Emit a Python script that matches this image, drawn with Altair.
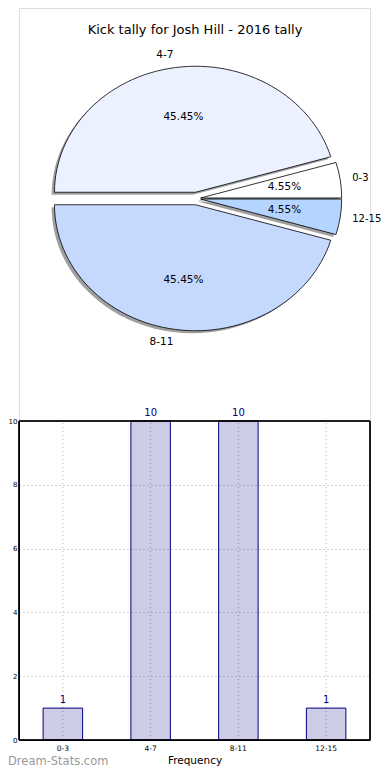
import altair as alt
import pandas as pd

# ---------------- data ----------------
title_text = "Kick tally for Josh Hill - 2016 tally"
categories = ["0-3", "4-7", "8-11", "12-15"]
counts = [1, 10, 10, 1]
pie_colors = ["#ffffff", "#ebf1ff", "#c5d9ff", "#b4d5ff"]
explode = [0.03, 0.05, 0.05, 0.03]
y_ticks = [0, 2, 4, 6, 8, 10]
x_title = "Frequency"
watermark = "Dream-Stats.com"

# ---------------- layout (plot-area pixels) ----------------
W, H = 351, 732
BAR_TOP = 413
CX, CY, RX, RY = 177.5, 190.5, 141, 126
FONT = "DejaVu Sans"
NAVY = "#000080"

df = pd.DataFrame({
    "cat": categories,
    "count": counts,
    "color": pie_colors,
    "explode": explode,
    "order": list(range(len(categories))),
})

# ---------------- pie (matplotlib-style, elliptical) ----------------
pie = (
    alt.Chart(df)
    .transform_joinaggregate(total="sum(count)")
    .transform_window(cum="sum(count)", sort=[alt.SortField("order")], frame=[None, 0])
    .transform_calculate(a1="2*PI*(datum.cum - datum.count)/datum.total")
    .transform_calculate(a2="2*PI*datum.cum/datum.total")
    .transform_calculate(mid="(datum.a1 + datum.a2)/2")
    .transform_calculate(pct="format(100*datum.count/datum.total, '.2f') + '%'")
    .transform_calculate(ox=f"{CX} + datum.explode*{RX}*cos(datum.mid)")
    .transform_calculate(oy=f"{CY} - datum.explode*{RY}*sin(datum.mid)")
    .transform_calculate(sx=f"datum.ox - 0.02*{RX}")
    .transform_calculate(sy=f"datum.oy + 0.02*{RY}")
    .transform_calculate(
        path=(
            f"'M0,0L' + round(100*{RX}*cos(datum.a1))/100 + ',' + round(-100*{RY}*sin(datum.a1))/100"
            f" + 'A{RX},{RY} 0 ' + (datum.a2 - datum.a1 > PI ? 1 : 0) + ',0 '"
            f" + round(100*{RX}*cos(datum.a2))/100 + ',' + round(-100*{RY}*sin(datum.a2))/100 + 'Z'"
        )
    )
    .transform_calculate(lx=f"datum.ox + 1.1*{RX}*cos(datum.mid)")
    .transform_calculate(ly=f"datum.oy - 1.1*{RY}*sin(datum.mid)")
    .transform_calculate(px=f"datum.ox + 0.6*{RX}*cos(datum.mid)")
    .transform_calculate(py=f"datum.oy - 0.6*{RY}*sin(datum.mid)")
)

shadows = pie.mark_point(filled=True, opacity=0.5, size=4, strokeWidth=0).encode(
    x=alt.X("sx:Q", scale=None),
    y=alt.Y("sy:Q", scale=None),
    shape=alt.Shape("path:N", scale=None),
    fill=alt.value("#404040"),
)
wedges = pie.mark_point(filled=True, opacity=1, size=4, stroke="black", strokeWidth=0.8).encode(
    x=alt.X("ox:Q", scale=None),
    y=alt.Y("oy:Q", scale=None),
    shape=alt.Shape("path:N", scale=None),
    fill=alt.Fill("color:N", scale=None),
)
labels_right = pie.transform_filter("cos(datum.mid) > 0").mark_text(
    align="left", baseline="middle", font=FONT, fontSize=10, dx=-2, color="black"
).encode(x=alt.X("lx:Q", scale=None), y=alt.Y("ly:Q", scale=None), text="cat:N")
labels_left = pie.transform_filter("cos(datum.mid) <= 0").mark_text(
    align="right", baseline="middle", font=FONT, fontSize=10.5, color="black"
).encode(x=alt.X("lx:Q", scale=None), y=alt.Y("ly:Q", scale=None), text="cat:N")
pcts = pie.mark_text(
    align="center", baseline="middle", font=FONT, fontSize=10.5, color="black"
).encode(x=alt.X("px:Q", scale=None), y=alt.Y("py:Q", scale=None), text="pct:N")

title = alt.Chart(pd.DataFrame({"t": [title_text]})).mark_text(
    align="center", baseline="middle", font=FONT, fontSize=13, color="black"
).encode(x=alt.value(176), y=alt.value(22), text="t:N")

# ---------------- bar chart ----------------
xenc = alt.X(
    "cat:N",
    sort=categories,
    scale=alt.Scale(paddingInner=0.55, paddingOuter=0.275),
    axis=alt.Axis(
        title=x_title, labelAngle=0, ticks=False, grid=False, domain=True,
        domainColor="black", domainWidth=1, labelFontSize=7.5, labelColor="black",
        labelFont=FONT, labelPadding=4, titleFont=FONT, titleFontSize=10.5,
        titleFontWeight="normal", titleColor="black", titlePadding=4,
    ),
)
yscale = alt.Scale(domain=[0, 10], range=[H, BAR_TOP], nice=False, zero=True)
yenc = alt.Y(
    "count:Q",
    scale=yscale,
    axis=alt.Axis(
        title=None, values=y_ticks, format="d", ticks=False, grid=True, gridDash=[1, 3],
        gridColor="#b0b0b0", gridWidth=1, domain=True, domainColor="black",
        domainWidth=1, labelFontSize=7, labelColor="black", labelFont=FONT,
        labelPadding=2,
    ),
)

bars_base = alt.Chart(df)
xgrid = bars_base.mark_rule(strokeDash=[1, 3], color="#b0b0b0", strokeWidth=1).encode(
    x=xenc, y=alt.datum(0, scale=yscale), y2=alt.datum(10)
)
bars = bars_base.mark_bar(fill=NAVY, fillOpacity=0.2, stroke=NAVY, strokeWidth=1).encode(
    x=xenc, y=yenc
)
bar_labels = bars_base.mark_text(
    baseline="bottom", dy=-3, font=FONT, fontSize=10, color=NAVY
).encode(x=xenc, y=yenc, text="count:Q")
frame = bars_base.mark_rect(fillOpacity=0, stroke="black", strokeWidth=0.8).encode(
    x=alt.value(0), x2=alt.value("width"), y=alt.datum(10), y2=alt.datum(0)
)

mark_wm = alt.Chart(pd.DataFrame({"t": [watermark]})).mark_text(
    align="left", baseline="middle", font=FONT, fontSize=11.5, color="#9a9a9a"
).encode(x=alt.value(-11), y=alt.value(754), text="t:N")

chart = alt.layer(
    xgrid, bars, bar_labels, frame,
    shadows, wedges, labels_right, labels_left, pcts, title, mark_wm,
).properties(
    width=W,
    height=H,
    autosize=alt.AutoSizeParams(type="none"),
    padding={"left": 11, "top": 0, "right": 12, "bottom": 29},
).configure_view(strokeWidth=0).configure(font=FONT)

chart.save("out.html", embed_options={"renderer": "svg", "actions": False})
